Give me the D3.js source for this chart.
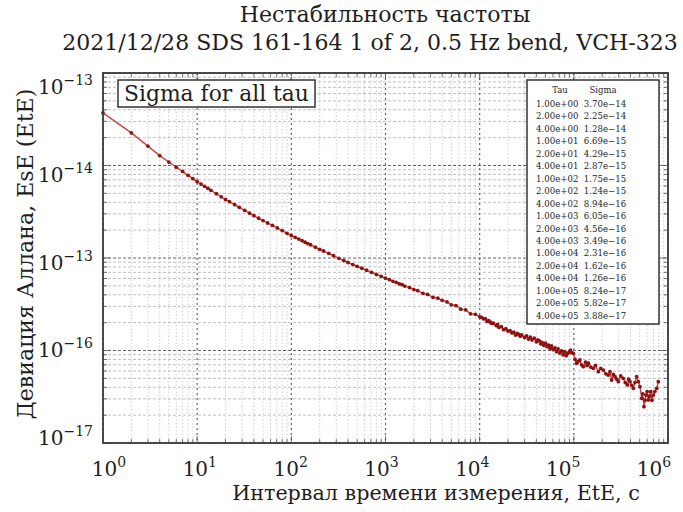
<!DOCTYPE html><meta charset="utf-8">
<style>
*{margin:0} body{background:#fff}
text{font-family:"DejaVu Serif",serif;fill:#1e1e1e}
</style>
<svg width="683" height="512"></svg>
<script src="https://d3js.org/d3.v7.min.js"></script>
<script>
const tau = [1,2,3,4,5,6,7,8,9,10,
  11,12,13,14,16,18,20,22,25,28,32,36,40,45,50,56,63,71,80,90,100,
  110,120,130,140,150,160,180,200,220,250,280,320,360,400,450,500,560,630,710,800,900,1000,
  1100,1200,1300,1400,1500,1600,1800,2000,2200,2500,2800,3200,3600,4000,4500,5000,5600,6300,7100,8000,9000,
  10000,10500,11000,11500,12000,12500,13000,13500,14000,15000,15500,16000,17000,18000,19000,20000,
  21000,22000,23000,24000,25000,26000,27000,28000,30000,31500,33000,34500,36000,38000,40000,
  41500,43000,44500,46000,48000,50000,52000,54000,56000,58000,60500,63000,65500,68000,71000,74000,77000,
  80000,83000,86000,89000,92000,95000,98700,
  1.03e5,1.07e5,1.11e5,1.16e5,1.21e5,1.26e5,1.33e5,1.38e5,1.43e5,1.52e5,1.61e5,1.70e5,1.82e5,1.93e5,
  2.06e5,2.19e5,2.32e5,2.42e5,2.52e5,2.63e5,2.74e5,2.85e5,2.97e5,3.15e5,3.35e5,3.52e5,3.70e5,3.82e5,
  3.95e5,4.12e5,4.28e5,4.46e5,4.65e5,4.85e5,5.04e5,5.26e5,5.40e5,5.56e5,5.70e5,5.84e5,6.00e5,6.18e5,
  6.35e5,6.55e5,6.75e5,6.98e5,7.25e5,7.59e5,7.89e5];
const sigma = [3.70e-14,2.25e-14,1.62e-14,1.28e-14,1.09e-14,9.60e-15,8.62e-15,7.83e-15,7.21e-15,6.69e-15,
  6.29e-15,5.95e-15,5.66e-15,5.39e-15,4.95e-15,4.59e-15,4.29e-15,4.06e-15,3.77e-15,3.53e-15,3.27e-15,3.05e-15,2.87e-15,
  2.69e-15,2.54e-15,2.39e-15,2.25e-15,2.11e-15,1.98e-15,1.85e-15,1.75e-15,
  1.67e-15,1.60e-15,1.54e-15,1.48e-15,1.43e-15,1.39e-15,1.31e-15,1.24e-15,1.19e-15,1.12e-15,1.06e-15,9.93e-16,9.40e-16,
  8.94e-16,8.50e-16,8.13e-16,7.75e-16,7.37e-16,7.00e-16,6.65e-16,6.33e-16,6.05e-16,
  5.84e-16,5.59e-16,5.46e-16,5.26e-16,5.15e-16,4.97e-16,4.79e-16,4.56e-16,4.43e-16,4.15e-16,4.04e-16,3.76e-16,3.68e-16,
  3.49e-16,3.35e-16,3.12e-16,3.06e-16,2.80e-16,2.75e-16,2.49e-16,2.46e-16,
  2.31e-16,2.28e-16,2.20e-16,2.21e-16,2.06e-16,2.10e-16,2.02e-16,1.96e-16,1.97e-16,1.86e-16,1.91e-16,1.78e-16,1.81e-16,
  1.68e-16,1.72e-16,1.62e-16,
  1.64e-16,1.55e-16,1.58e-16,1.47e-16,1.53e-16,1.49e-16,1.43e-16,1.47e-16,1.38e-16,1.44e-16,1.33e-16,1.39e-16,1.30e-16,
  1.36e-16,1.24e-16,
  1.30e-16,1.27e-16,1.18e-16,1.22e-16,1.14e-16,1.20e-16,1.10e-16,1.14e-16,1.05e-16,1.12e-16,1.02e-16,1.07e-16,9.7e-17,
  1.04e-16,9.4e-17,9.9e-17,9.0e-17,
  9.7e-17,8.8e-17,9.3e-17,9.6e-17,1.01e-16,9.5e-17,9.33e-17,
  8.0e-17,7.28e-17,7.6e-17,7.89e-17,7.0e-17,6.68e-17,7.5e-17,6.9e-17,7.28e-17,6.6e-17,6.42e-17,6.9e-17,5.90e-17,6.4e-17,
  6.15e-17,5.6e-17,5.43e-17,5.9e-17,4.80e-17,5.5e-17,5.21e-17,4.9e-17,4.60e-17,5.3e-17,5.00e-17,4.5e-17,4.24e-17,4.9e-17,
  4.60e-17,4.2e-17,3.90e-17,4.5e-17,5.21e-17,4.6e-17,4.06e-17,3.04e-17,3.4e-17,2.47e-17,2.9e-17,3.30e-17,3.6e-17,2.92e-17,
  3.2e-17,3.59e-17,2.9e-17,3.30e-17,3.6e-17,3.90e-17,4.60e-17];

// table in the upper right
const tableTau = [1,2,4,10,20,40,100,200,400,1e3,2e3,4e3,1e4,2e4,4e4,1e5,2e5,4e5];
const tableSigma = [3.70e-14,2.25e-14,1.28e-14,6.69e-15,4.29e-15,2.87e-15,1.75e-15,1.24e-15,8.94e-16,
  6.05e-16,4.56e-16,3.49e-16,2.31e-16,1.62e-16,1.26e-16,8.24e-17,5.82e-17,3.88e-17];

// axis labels as printed
const xTickExp = ["0","1","2","3","4","5","6"];
const yTickVals = [1e-13,1e-14,1e-15,1e-16,1e-17];
const yTickExp = ["−13","−14","−13","−16","−17"];

const svg = d3.select("svg"),
      m = {l:103,t:73,r:15,b:69},
      W = 683-m.l-m.r, H = 512-m.t-m.b;

const x = d3.scaleLog().domain([1,1e6]).range([0,W]),
      y = d3.scaleLog().domain([1e-17,1e-13]).range([H,0]),
      xl = d3.scaleLog().domain([1,1e6]).range([6,W-14]),   // label spots
      yl = d3.scaleLog().domain([1e-17,1e-13]).range([H-5,14]);

const g = svg.append("g").attr("transform",`translate(${m.l},${m.t})`);
const major = v => Math.abs(Math.log10(v)-Math.round(Math.log10(v)))<1e-6;

// grid
const xt = x.ticks(), yt = y.ticks();
g.append("g").selectAll("line").data(xt.filter(v=>!major(v))).join("line")
  .attr("x1",x).attr("x2",x).attr("y1",0).attr("y2",H)
  .attr("stroke","#c4c4c4").attr("stroke-width",.8).attr("stroke-dasharray","1.5,2");
g.append("g").selectAll("line").data(yt.filter(v=>!major(v))).join("line")
  .attr("y1",y).attr("y2",y).attr("x1",0).attr("x2",W)
  .attr("stroke","#b0b0b0").attr("stroke-width",.8).attr("stroke-dasharray","3,2");
g.append("g").selectAll("line").data(xt.filter(major)).join("line")
  .attr("x1",x).attr("x2",x).attr("y1",0).attr("y2",H)
  .attr("stroke","#666").attr("stroke-width",1.2).attr("stroke-dasharray","2,3");
g.append("g").selectAll("line").data(yt.filter(major)).join("line")
  .attr("y1",y).attr("y2",y).attr("x1",0).attr("x2",W)
  .attr("stroke","#666").attr("stroke-width",1.2).attr("stroke-dasharray","3,2");

// small ticks along the frame
const tk = g.append("g").attr("stroke","#555").attr("stroke-width",.8);
[0,H].forEach((yy,i)=>tk.append("g").selectAll("line").data(xt).join("line")
  .attr("x1",x).attr("x2",x).attr("y1",yy).attr("y2",d=>yy+(i?-1:1)*(major(d)?7:4)));
[0,W].forEach((xx,i)=>tk.append("g").selectAll("line").data(yt).join("line")
  .attr("y1",y).attr("y2",y).attr("x1",xx).attr("x2",d=>xx+(i?-1:1)*(major(d)?7:4)));

// data
const pts = d3.zip(tau,sigma);
g.append("path").datum(pts)
  .attr("fill","none").attr("stroke","#c94444").attr("stroke-width",1.4)
  .attr("d",d3.line().x(d=>x(d[0])).y(d=>y(d[1])));
g.append("g").selectAll("circle").data(pts).join("circle")
  .attr("cx",d=>x(d[0])).attr("cy",d=>y(d[1])).attr("r",1.9)
  .attr("fill","#8f1111");

// frame
g.append("rect").attr("width",W).attr("height",H)
  .attr("fill","none").attr("stroke","#3a3a3a").attr("stroke-width",1.8);

function fit(t,w){
  const s = +t.attr("font-size"), l = t.node().getComputedTextLength();
  t.attr("font-size", s*w/l);
  return t;
}

// legend box
g.append("rect").attr("x",15).attr("y",7).attr("width",197).attr("height",27)
  .attr("fill","#fff").attr("stroke","#333").attr("stroke-width",1.5);
fit(g.append("text").attr("x",21).attr("y",28).attr("font-size",20).text("Sigma for all tau"),185);

// table
const tb = g.append("g").attr("transform","translate(424,7)");
tb.append("rect").attr("width",132).attr("height",244)
  .attr("fill","#fff").attr("stroke","#333").attr("stroke-width",1.5);
const fmt = v => v.toExponential(2).replace(/e([+-])(\d)$/,"e$10$2").replace("-","−");
tb.append("text").attr("x",33).attr("y",13).attr("text-anchor","middle").attr("font-size",8.5).text("Tau");
tb.append("text").attr("x",76).attr("y",13).attr("text-anchor","middle").attr("font-size",8.5).text("Sigma");
tb.selectAll(".r").data(d3.zip(tableTau,tableSigma)).join("text").attr("class","r")
  .attr("x",9).attr("y",(d,i)=>27+i*12.45).attr("font-size",8.6)
  .text(d=>fmt(d[0])+"  "+fmt(d[1])).attr("xml:space","preserve");

// tick labels
const xlab = g.append("g").selectAll("text").data(xTickExp).join("text")
  .attr("x",(d,i)=>xl(Math.pow(10,i))).attr("y",H+33)
  .attr("text-anchor","middle").attr("font-size",20);
xlab.append("tspan").text("10");
xlab.append("tspan").attr("dy",-9).attr("font-size",14).text(d=>d);

const ylab = g.append("g").selectAll("text").data(yTickVals).join("text")
  .attr("x",-10).attr("y",d=>yl(d)+7)
  .attr("text-anchor","end").attr("font-size",20);
ylab.append("tspan").text("10");
ylab.append("tspan").attr("dy",-9).attr("font-size",14).text((d,i)=>yTickExp[i]);

// titles
const t2 = svg.append("text").attr("x",370).attr("y",50).attr("text-anchor","middle")
  .attr("font-size",20).text("2021/12/28 SDS 161-164 1 of 2, 0.5 Hz bend, VCH-323");
fit(t2,616);
svg.append("text").attr("x",385).attr("y",22).attr("text-anchor","middle")
  .attr("font-size",t2.attr("font-size")).text("Нестабильность частоты");
fit(svg.append("text").attr("x",436).attr("y",500).attr("text-anchor","middle")
  .attr("font-size",20).text("Интервал времени измерения, EtE, с"),408);
fit(svg.append("text").attr("transform","translate(33,254) rotate(-90)").attr("text-anchor","middle")
  .attr("font-size",20).text("Девиация Аллана, EsE (EtE)"),331);
</script>
